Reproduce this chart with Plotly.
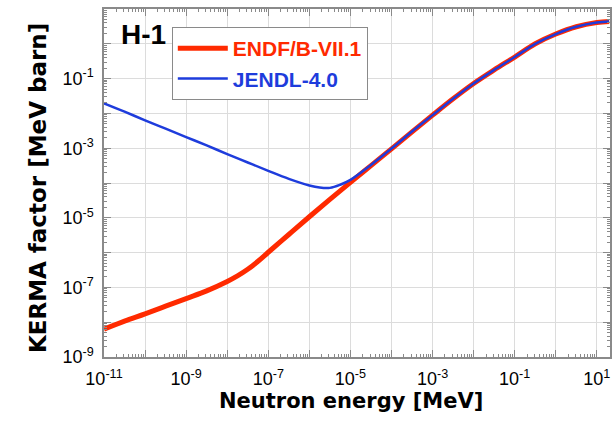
import numpy as np
import plotly.graph_objects as go

# ---- data (log10 values) ----
log_energy_endf = [-11, -10.5, -10, -9.5, -9, -8.5, -8, -7.75, -7.5, -7.25, -7, -6.5, -6, -5.5, -5,
                   -4.5, -4, -3.5, -3, -2.5, -2, -1.5, -1, -0.5, 0, 0.5, 1, 1.3]
log_kerma_endf = [-8.20, -7.97, -7.76, -7.54, -7.32, -7.10, -6.83, -6.67, -6.48, -6.25, -5.99, -5.48,
                  -4.97, -4.47, -3.98, -3.50, -3.02, -2.53, -2.05, -1.58, -1.14, -0.75,
                  -0.38, 0.00, 0.28, 0.49, 0.61, 0.64]

log_energy_jendl = [-11, -10.5, -10, -9.5, -9, -8.5, -8, -7.5, -7, -6.5, -6, -5.75, -5.5,
                    -5.25, -5, -4.5, -4, -3.5, -3, -2.5, -2, -1.5, -1, -0.5, 0, 0.5, 1, 1.3]
log_kerma_jendl = [-1.71, -1.95, -2.20, -2.44, -2.68, -2.92, -3.17, -3.41, -3.65, -3.88,
                   -4.07, -4.13, -4.14, -4.05, -3.91, -3.48, -3.01, -2.52, -2.05, -1.58,
                   -1.14, -0.75, -0.38, 0.00, 0.28, 0.49, 0.61, 0.64]

x_label_exponents = [-11, -9, -7, -5, -3, -1, 1]
y_label_exponents = [-9, -7, -5, -3, -1]

series_names = ["ENDF/B-VII.1", "JENDL-4.0"]
series_colors = ["#ff2a00", "#1e3cdc"]

# ---- figure ----
fig = go.Figure()
fig.add_trace(go.Scatter(
    x=10 ** np.array(log_energy_endf), y=10 ** np.array(log_kerma_endf),
    mode="lines", line=dict(color=series_colors[0], width=5, shape="spline"),
    name=f"<b><span style='color:{series_colors[0]}'>{series_names[0]}</span></b>"))
fig.add_trace(go.Scatter(
    x=10 ** np.array(log_energy_jendl), y=10 ** np.array(log_kerma_jendl),
    mode="lines", line=dict(color=series_colors[1], width=2.5, shape="spline"),
    name=f"<b><span style='color:{series_colors[1]}'>{series_names[1]}</span></b>"))

axis_color = "#8a8a8a"
grid_color = "#dcdcdc"
tick_font = dict(family="Liberation Sans, Arial, sans-serif", size=18, color="black")


def decade_axis(lo, hi, labels):
    vals = [10.0 ** k for k in range(lo, hi + 1)]
    text = [f"10<sup>{k}</sup>" if k in labels else "" for k in range(lo, hi + 1)]
    minor_vals = [m * 10.0 ** k for k in range(lo - 1, hi + 1) for m in range(2, 10)]
    return dict(
        type="log", tickmode="array", tickvals=vals, ticktext=text,
        ticks="inside", ticklen=7, tickwidth=1, tickcolor=axis_color,
        showgrid=True, gridcolor=grid_color, gridwidth=1,
        showline=True, linecolor=axis_color, linewidth=1.5, mirror="allticks",
        zeroline=False, tickfont=tick_font, ticklabelstandoff=5,
        minor=dict(tickmode="array", tickvals=minor_vals, ticks="inside", ticklen=3,
                   tickcolor=axis_color, showgrid=False),
    )


xa = decade_axis(-11, 1, x_label_exponents)
xa["range"] = [-11, 1.32]
ya = decade_axis(-9, 1, y_label_exponents)
ya["range"] = [-9, 1]

title_font = dict(family="DejaVu Sans, Liberation Sans, sans-serif", size=21, color="black")

fig.update_layout(
    width=615, height=433,
    margin=dict(l=104, r=3, t=9, b=76),
    paper_bgcolor="white", plot_bgcolor="white",
    xaxis=xa, yaxis=ya,
    showlegend=True,
    legend=dict(
        x=0.134, y=0.948, xanchor="left", yanchor="top",
        bgcolor="white", bordercolor="#8a8a8a", borderwidth=1,
        font=dict(family="Liberation Sans, Arial, sans-serif", size=21),
        tracegroupgap=0, itemwidth=50,
    ),
    annotations=[
        dict(text="<b>H-1</b>", xref="paper", yref="paper", x=0.03, y=0.978,
             xanchor="left", yanchor="top", showarrow=False,
             font=dict(family="Liberation Sans, Arial, sans-serif",
                       size=28, color="black")),
        dict(text="<b>Neutron energy [MeV]</b>", xref="paper", yref="paper",
             x=0.488, y=-0.125, xanchor="center", yanchor="middle", showarrow=False,
             font=title_font),
        dict(text="<b>KERMA factor [MeV barn]</b>", xref="paper", yref="paper",
             x=-0.13, y=0.486, xanchor="center", yanchor="middle", showarrow=False,
             textangle=-90, font=dict(title_font, size=23)),
    ],
)

fig.write_html("out.html")
